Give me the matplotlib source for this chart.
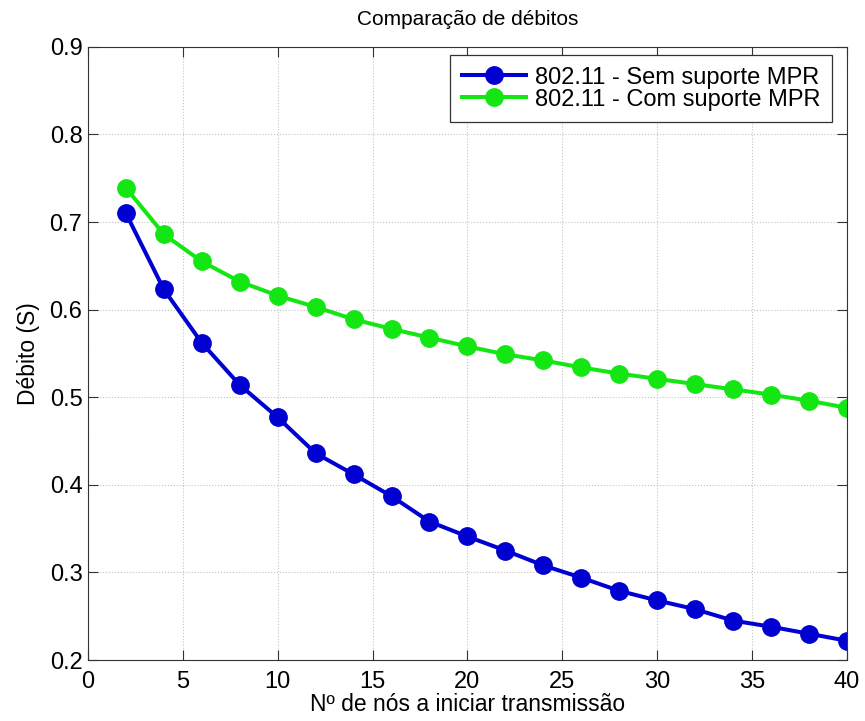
import matplotlib.pyplot as plt

# Nº de nós
nos = [2, 4, 6, 8, 10, 12, 14, 16, 18, 20, 22, 24, 26, 28, 30, 32, 34, 36, 38, 40]
# Débito sem suporte MPR
sem_mpr = [0.710, 0.623, 0.562, 0.514, 0.477, 0.436, 0.412, 0.387, 0.358, 0.341,
           0.325, 0.308, 0.294, 0.279, 0.268, 0.258, 0.245, 0.238, 0.230, 0.222]
# Débito com suporte MPR
com_mpr = [0.739, 0.686, 0.655, 0.632, 0.616, 0.603, 0.589, 0.578, 0.568, 0.558,
           0.549, 0.542, 0.534, 0.527, 0.521, 0.515, 0.509, 0.503, 0.496, 0.488]

plt.rcParams['font.family'] = ['Liberation Sans', 'DejaVu Sans']

fig = plt.figure(figsize=(8.65, 7.21), dpi=100)
ax = fig.add_axes([0.1017, 0.0846, 0.8773, 0.8504])

ax.plot(nos, sem_mpr, '-o', color='#0000d0', lw=2.9, ms=12.5,
        label='802.11 - Sem suporte MPR')
ax.plot(nos, com_mpr, '-o', color='#14e614', lw=2.9, ms=12.5,
        label='802.11 - Com suporte MPR')

ax.set_xlim(0, 40)
ax.set_ylim(0.2, 0.9)
ax.set_xticks(range(0, 41, 5))
ax.set_yticks([0.2, 0.3, 0.4, 0.5, 0.6, 0.7, 0.8, 0.9])
ax.set_yticklabels(['0.2', '0.3', '0.4', '0.5', '0.6', '0.7', '0.8', '0.9'])
ax.tick_params(direction='in', top=True, right=True, labelsize=17, length=7,
               pad=4, color='#333333')
ax.tick_params(axis='x', pad=8)
ax.grid(True, ls=':', color='#c4c4c4', lw=0.8)
for s in ax.spines.values():
    s.set_color('#333333')

ax.set_xlabel('Nº de nós a iniciar transmissão', fontsize=16.5, labelpad=0)
ax.set_ylabel('Débito (S)', fontsize=16.5, labelpad=7)
ax.set_title('Comparação de débitos', fontsize=15, pad=16)

leg = ax.legend(loc='upper right', bbox_to_anchor=(0.981, 0.987), fontsize=17,
                fancybox=False, framealpha=1, edgecolor='#333333',
                borderaxespad=0, handlelength=2.7, handletextpad=0.4,
                borderpad=0.5, labelspacing=0.0)
leg.get_frame().set_linewidth(0.9)

fig.savefig('out.png', dpi=100)
